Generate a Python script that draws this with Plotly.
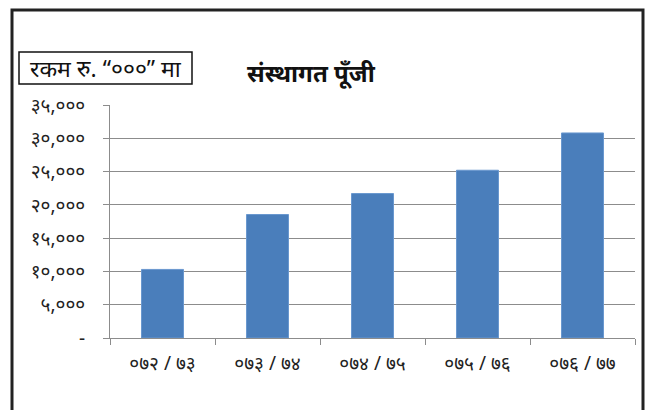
import plotly.graph_objects as go

categories = ["०७२ / ७३", "०७३ / ७४", "०७४ / ७५", "०७५ / ७६", "०७६ / ७७"]
values = [10300, 18550, 21700, 25200, 30800]
y_tickvals = [0, 5000, 10000, 15000, 20000, 25000, 30000, 35000]
y_ticktext = ["-", "५,०००", "१०,०००", "१५,०००", "२०,०००", "२५,०००", "३०,०००", "३५,०००"]
title_text = "संस्थागत पूँजी"
unit_text = "रकम रु. “०००” मा"

W, H = 649, 410
L, T = 110, 105
R = W - 635
B = H - 338
pw = W - L - R
ph = H - T - B

def px(x):
    return (x - L) / pw

def py(y):
    return (H - B - y) / ph

fig = go.Figure()
fig.add_trace(go.Bar(
    x=categories, y=values,
    marker=dict(color="#4A7EBB", line=dict(color="#6A98CF", width=1)),
    width=0.4,
))

grid = "#8C8C8C"
fig.update_layout(
    width=W, height=H,
    margin=dict(l=L, r=R, t=T, b=B),
    paper_bgcolor="white", plot_bgcolor="white",
    showlegend=False,
    font=dict(family="Noto Sans, sans-serif", color="#222222"),
    xaxis=dict(
        type="category", showline=True, linecolor=grid, linewidth=1,
        ticks="outside", tickson="boundaries", ticklen=6, tickcolor=grid,
        tickfont=dict(size=19, color="#222222"), showgrid=False,
        ticklabelstandoff=8,
    ),
    yaxis=dict(
        range=[0, 35000], tickvals=y_tickvals, ticktext=y_ticktext,
        showline=True, linecolor=grid, linewidth=1,
        ticks="outside", ticklen=6, tickcolor=grid,
        showgrid=True, gridcolor=grid, gridwidth=1,
        tickfont=dict(size=19, color="#222222"), zeroline=False,
        ticklabelstandoff=14,
    ),
    shapes=[
        dict(type="rect", xref="paper", yref="paper",
             x0=px(12), x1=px(643), y0=py(440), y1=py(10),
             line=dict(color="#222222", width=3), layer="above"),
        dict(type="rect", xref="paper", yref="paper",
             x0=px(19), x1=px(192), y0=py(84), y1=py(52),
             line=dict(color="#111111", width=1.5)),
    ],
    annotations=[
        dict(xref="paper", yref="paper", x=px(106), y=py(68),
             text=unit_text, showarrow=False,
             font=dict(size=23, color="#111111"), xanchor="center", yanchor="middle"),
        dict(xref="paper", yref="paper", x=px(311), y=py(72),
             text="<b>" + title_text + "</b>", showarrow=False,
             font=dict(size=24, color="#111111"), xanchor="center", yanchor="middle"),
    ],
)

fig.write_html(
    "out.html",
    config={"displayModeBar": False},
    post_script="document.body.style.margin='0';document.body.style.overflow='hidden';",
)
